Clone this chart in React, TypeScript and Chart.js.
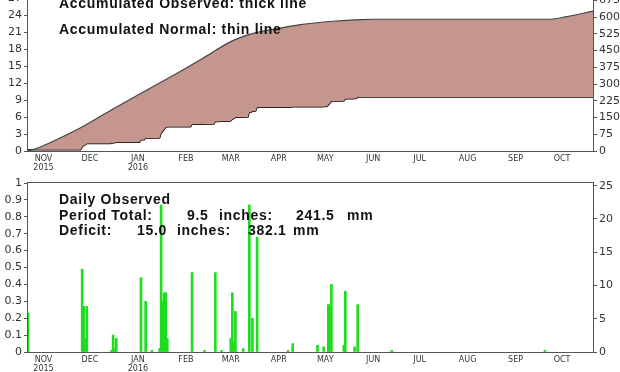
import React, { useEffect, useRef } from "react";
import { Chart, registerables } from "chart.js";

Chart.register(...registerables);

// Day numbers are counted from 1 Nov 2015 (= day 0)
const dayMin = -10;
const dayMax = 355;
const monthStartDays = [0, 30, 61, 92, 121, 152, 182, 213, 243, 274, 305, 335];
const monthLabels: (string | string[])[] = [
  ["NOV", "2015"], "DEC", ["JAN", "2016"], "FEB", "MAR", "APR", "MAY", "JUN", "JUL", "AUG", "SEP", "OCT",
];

// Daily observed precipitation (inches)
const rainDays = [
  -10, 25, 26, 27, 28, 44, 45, 46, 47, 63, 66, 70, 75, 76, 77, 78, 79, 80, 96, 104, 111, 115,
  121, 122, 123, 124, 129, 133, 135, 138, 158, 161, 177, 181, 184, 185, 186, 194, 195, 201, 203, 225, 324,
];
const rainInches = [
  0.23, 0.49, 0.27, 0.08, 0.27, 0.01, 0.10, 0.02, 0.08, 0.44, 0.30, 0.01, 0.02, 0.87, 0.30, 0.35, 0.35, 0.08, 0.47, 0.01, 0.47, 0.01,
  0.08, 0.35, 0.06, 0.24, 0.02, 0.87, 0.20, 0.68, 0.01, 0.05, 0.04, 0.03, 0.28, 0.28, 0.40, 0.04, 0.36, 0.03, 0.28, 0.01, 0.01,
];

// Accumulated normal precipitation (inches)
const normalDays = [-10, -2, 10, 24, 43, 61, 75, 90, 105, 121, 135, 151, 166, 187, 205, 213, 327, 338, 355];
const normalInches = [0, 0.7, 2.2, 4.1, 7.1, 9.9, 12.0, 14.3, 16.7, 19.3, 20.7, 21.6, 22.3, 22.9, 23.2, 23.25, 23.25, 23.7, 24.7];

const topInchMax = 27;
const topInchStep = 3;
const topMmStep = 75;
const bottomInchMax = 1;
const bottomInchStep = 0.1;
const bottomMmStep = 5;
const MM_PER_INCH = 25.4;

const FILL = "#c4968e";
const GREEN = "#1edc1e";
const AXIS = "#555";
const TICK_COLOR = "#333";

const framePlugin = {
  id: "frame",
  afterDraw(chart: any) {
    const { ctx, chartArea } = chart;
    const l = Math.round(chartArea.left) - 0.5;
    const t = Math.round(chartArea.top) - 0.5;
    const r = Math.round(chartArea.right) + 0.5;
    const b = Math.round(chartArea.bottom) + 0.5;
    ctx.save();
    ctx.strokeStyle = AXIS;
    ctx.lineWidth = 1;
    ctx.strokeRect(l, t, r - l, b - t);
    ctx.restore();
  },
};

function xScale(height: number) {
  return {
    type: "linear" as const,
    min: dayMin,
    max: dayMax,
    offset: false,
    grid: { display: false, drawTicks: false, tickLength: 0 },
    border: { display: false },
    afterBuildTicks: (scale: any) => {
      scale.ticks = monthStartDays.map((v) => ({ value: v }));
    },
    afterFit: (scale: any) => {
      scale.height = height;
    },
    ticks: {
      autoSkip: false,
      maxRotation: 0,
      padding: 4,
      color: TICK_COLOR,
      font: { family: "DejaVu Sans", size: 8, lineHeight: 1.05 },
      callback: (_v: any, i: number) => monthLabels[i],
    },
  };
}

function yScale(position: "left" | "right", max: number, step: number, width: number) {
  return {
    type: "linear" as const,
    position,
    min: 0,
    max,
    border: { display: false },
    grid: { display: true, drawOnChartArea: false, drawTicks: true, tickLength: 4, color: AXIS },
    afterBuildTicks: (scale: any) => {
      const ticks: { value: number }[] = [];
      for (let i = 0; i * step <= max + 1e-9; i++) ticks.push({ value: Math.round(i * step * 1e6) / 1e6 });
      scale.ticks = ticks;
    },
    afterFit: (scale: any) => {
      scale.width = width;
    },
    ticks: {
      padding: 2,
      color: TICK_COLOR,
      font: { family: "DejaVu Sans", size: 11 },
      callback: (v: any) => String(Math.round(Number(v) * 100) / 100),
    },
  };
}

function TopChart() {
  const ref = useRef<HTMLCanvasElement>(null);
  useEffect(() => {
    let acc = 0;
    const observed: { x: number; y: number }[] = [];
    for (let d = dayMin; d <= dayMax; d++) {
      const i = rainDays.indexOf(d);
      if (i >= 0) acc += rainInches[i];
      observed.push({ x: d, y: acc });
    }
    const normal = normalDays.map((d, i) => ({ x: d, y: normalInches[i] }));
    const chart = new Chart(ref.current!, {
      type: "line",
      data: {
        datasets: [
          {
            label: "Accumulated Normal",
            data: normal,
            borderColor: "#444",
            borderWidth: 1.2,
            pointRadius: 0,
            cubicInterpolationMode: "monotone",
            fill: "+1",
            backgroundColor: FILL,
            yAxisID: "y",
          },
          {
            label: "Accumulated Observed",
            data: observed,
            borderColor: "#000",
            borderWidth: 1.5,
            pointRadius: 0,
            fill: false,
            yAxisID: "y",
          },
        ],
      },
      options: {
        animation: false,
        responsive: false,
        maintainAspectRatio: false,
        layout: { padding: { top: 10, left: 0, right: 0, bottom: 0 } },
        plugins: { legend: { display: false }, tooltip: { enabled: false } },
        scales: {
          x: xScale(21),
          y: yScale("left", topInchMax, topInchStep, 28),
          y2: yScale("right", topInchMax * MM_PER_INCH, topMmStep, 27),
        },
      } as any,
      plugins: [framePlugin],
    });
    return () => chart.destroy();
  }, []);
  return (
    <canvas
      ref={ref}
      width={620}
      height={184}
      style={{ position: "absolute", left: 0, top: -12, width: 620, height: 184 }}
    />
  );
}

function BottomChart() {
  const ref = useRef<HTMLCanvasElement>(null);
  useEffect(() => {
    const bars = rainDays.map((d, i) => ({ x: d, y: rainInches[i] }));
    const chart = new Chart(ref.current!, {
      type: "bar",
      data: {
        datasets: [
          {
            label: "Daily Observed",
            data: bars,
            backgroundColor: GREEN,
            borderWidth: 0,
            barThickness: 2,
            yAxisID: "y",
          },
        ],
      },
      options: {
        animation: false,
        responsive: false,
        maintainAspectRatio: false,
        layout: { padding: { top: 10, left: 0, right: 0, bottom: 0 } },
        plugins: { legend: { display: false }, tooltip: { enabled: false } },
        scales: {
          x: xScale(21),
          y: yScale("left", bottomInchMax, bottomInchStep, 28),
          y2: yScale("right", bottomInchMax * MM_PER_INCH, bottomMmStep, 27),
        },
      } as any,
      plugins: [framePlugin],
    });
    return () => chart.destroy();
  }, []);
  return (
    <canvas
      ref={ref}
      width={620}
      height={200}
      style={{ position: "absolute", left: 0, top: 173, width: 620, height: 200 }}
    />
  );
}

const textStyle: React.CSSProperties = {
  position: "absolute",
  fontFamily: "'Liberation Sans', Arial, sans-serif",
  fontWeight: "bold",
  fontSize: 14,
  lineHeight: "14px",
  letterSpacing: "0.7px",
  color: "#111",
  whiteSpace: "pre",
};

function T({ x, y, children }: { x: number; y: number; children: React.ReactNode }) {
  return <div style={{ ...textStyle, left: x, top: y }}>{children}</div>;
}

export default function App() {
  return (
    <div
      style={{
        position: "fixed",
        left: 0,
        top: 0,
        width: 620,
        height: 372,
        overflow: "hidden",
        background: "#fff",
      }}
    >
      <TopChart />
      <BottomChart />
      <T x={59} y={-4.5}>Accumulated Observed: thick line</T>
      <T x={59} y={21.5}>Accumulated Normal: thin line</T>
      <T x={59} y={191.5}>Daily Observed</T>
      <T x={59} y={207.5}>Period Total:</T>
      <T x={187} y={207.5}>9.5</T>
      <T x={219} y={207.5}>inches:</T>
      <T x={296} y={207.5}>241.5</T>
      <T x={347} y={207.5}>mm</T>
      <T x={59} y={223.2}>Deficit:</T>
      <T x={137} y={223.2}>15.0</T>
      <T x={177} y={223.2}>inches:</T>
      <T x={248} y={223.2}>382.1</T>
      <T x={293} y={223.2}>mm</T>
    </div>
  );
}
